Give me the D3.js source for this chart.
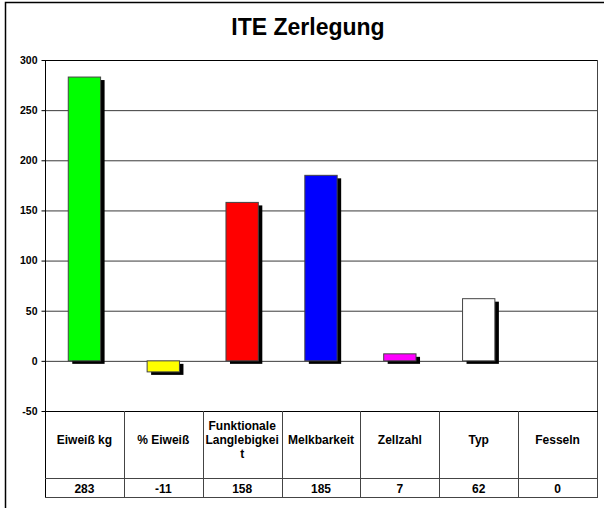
<!DOCTYPE html>
<html lang="de">
<head>
	<meta charset="UTF-8">
	<title>ITE Zerlegung</title>
	<script src="https://cdn.jsdelivr.net/npm/d3@7/dist/d3.min.js"></script>
	<style>
		body { margin: 0; background: #fff; }
		text { font-family: "Liberation Sans", Arial, sans-serif; font-weight: bold; fill: #000; }
	</style>
</head>
<body>
<script type="text/javascript">

	var categories = ['Eiweiß kg', '% Eiweiß', 'Funktionale Langlebigkeit', 'Melkbarkeit', 'Zellzahl', 'Typ', 'Fesseln'];
	var values = [283, -11, 158, 185, 7, 62, 0];
	var colors = ['#00ff00', '#ffff00', '#ff0000', '#0000ff', '#ff00ff', '#ffffff', '#ffffff'];
	var yTicks = [-50, 0, 50, 100, 150, 200, 250, 300];

	var width = 604, height = 508;
	var plot = {left: 45, right: 597, top: 60, bottom: 411};
	var headerBottom = 478, tableBottom = 497;

	var svg = d3.select('body').append('svg')
		.attr('width', width)
		.attr('height', height);

	// outer frame (right and bottom run off the picture)
	svg.append('rect')
		.attr('x', 5.5).attr('y', 2.5)
		.attr('width', 620).attr('height', 540)
		.attr('fill', 'none').attr('stroke', '#000').attr('stroke-width', 1.5);

	svg.append('text')
		.attr('x', 308).attr('y', 35)
		.attr('text-anchor', 'middle')
		.style('font-size', '23px')
		.text('ITE Zerlegung');

	var x = d3.scaleBand()
		.domain(categories)
		.range([plot.left, plot.right]);

	var y = d3.scaleLinear()
		.domain([-50, 300])
		.range([plot.bottom, plot.top]);

	// gridlines
	svg.append('g').selectAll('line')
		.data(yTicks.filter(function (d) { return d > -50 && d < 300; }))
		.enter().append('line')
		.attr('x1', plot.left).attr('x2', plot.right)
		.attr('y1', function (d) { return y(d) + 0.5; })
		.attr('y2', function (d) { return y(d) + 0.5; })
		.attr('stroke', '#3a3a3a');

	// y axis
	var axis_y = svg.append('g')
		.attr('transform', 'translate(' + (plot.left + 0.5) + ',0)')
		.call(d3.axisLeft(y).tickValues(yTicks).tickSize(4).tickPadding(4)
			.tickFormat(function (d) { return String(d); }));
	axis_y.select('.domain').remove();
	axis_y.selectAll('line').attr('stroke', '#000');
	axis_y.selectAll('text')
		.style('font-size', '10.5px')
		.style('font-family', '"Liberation Sans", Arial, sans-serif');

	// bars with drop shadow
	var bw = x.bandwidth() * 0.41;
	var bars = svg.append('g').selectAll('g')
		.data(categories.map(function (c, i) { return {cat: c, value: values[i], color: colors[i]}; })
			.filter(function (d) { return d.value !== 0; }))
		.enter().append('g');

	bars.append('rect')
		.attr('x', function (d) { return x(d.cat) + (x.bandwidth() - bw) / 2 + 4; })
		.attr('y', function (d) { return Math.min(y(d.value), y(0)) + 3; })
		.attr('width', bw)
		.attr('height', function (d) { return Math.abs(y(d.value) - y(0)); })
		.attr('fill', '#000');

	bars.append('rect')
		.attr('x', function (d) { return x(d.cat) + (x.bandwidth() - bw) / 2; })
		.attr('y', function (d) { return Math.min(y(d.value), y(0)); })
		.attr('width', bw)
		.attr('height', function (d) { return Math.abs(y(d.value) - y(0)); })
		.attr('fill', function (d) { return d.color; })
		.attr('stroke', '#444')
		.attr('stroke-width', 1);

	// plot frame
	svg.append('line')
		.attr('x1', plot.left).attr('x2', plot.right)
		.attr('y1', plot.top + 0.5).attr('y2', plot.top + 0.5)
		.attr('stroke', '#000');
	svg.append('line')
		.attr('x1', plot.right + 0.5).attr('x2', plot.right + 0.5)
		.attr('y1', plot.top).attr('y2', tableBottom)
		.attr('stroke', '#444');
	svg.append('line')
		.attr('x1', plot.left + 0.5).attr('x2', plot.left + 0.5)
		.attr('y1', plot.top).attr('y2', tableBottom)
		.attr('stroke', '#000');

	// data table
	var table = svg.append('g');
	[plot.bottom, headerBottom, tableBottom].forEach(function (yy, i) {
		table.append('line')
			.attr('x1', plot.left).attr('x2', plot.right + 1)
			.attr('y1', yy + 0.5).attr('y2', yy + 0.5)
			.attr('stroke', i === 0 ? '#000' : '#444');
	});
	table.selectAll('.sep')
		.data(categories.slice(1))
		.enter().append('line')
		.attr('class', 'sep')
		.attr('x1', function (d) { return Math.round(x(d)) + 0.5; })
		.attr('x2', function (d) { return Math.round(x(d)) + 0.5; })
		.attr('y1', plot.bottom).attr('y2', tableBottom)
		.attr('stroke', '#444');

	function wrapLines(textSel, str, maxW) {
		var words = str.split(' '), lines = [], cur = '';
		function fits(s) { textSel.text(s); return textSel.node().getComputedTextLength() <= maxW; }
		words.forEach(function (w) {
			var trial = cur ? cur + ' ' + w : w;
			if (fits(trial)) { cur = trial; return; }
			if (cur) lines.push(cur);
			cur = '';
			// break long words by characters
			var part = '';
			w.split('').forEach(function (ch) {
				if (fits(part + ch)) part += ch;
				else { lines.push(part); part = ch; }
			});
			cur = part;
		});
		if (cur) lines.push(cur);
		return lines;
	}

	var lineH = 14;
	categories.forEach(function (c, i) {
		var cx = x(c) + x.bandwidth() / 2;
		var t = table.append('text')
			.attr('text-anchor', 'middle')
			.style('font-size', '12px');
		var lines = wrapLines(t, c, x.bandwidth() - 2);
		t.text(null);
		var midY = (plot.bottom + headerBottom) / 2 - 5;
		var y0 = midY - (lines.length - 1) * lineH / 2 + 4;
		lines.forEach(function (l, k) {
			t.append('tspan').attr('x', cx).attr('y', y0 + k * lineH).text(l);
		});

		table.append('text')
			.attr('x', cx).attr('y', tableBottom - 4)
			.attr('text-anchor', 'middle')
			.style('font-size', '12px')
			.text(values[i]);
	});

</script>
</body>
</html>
